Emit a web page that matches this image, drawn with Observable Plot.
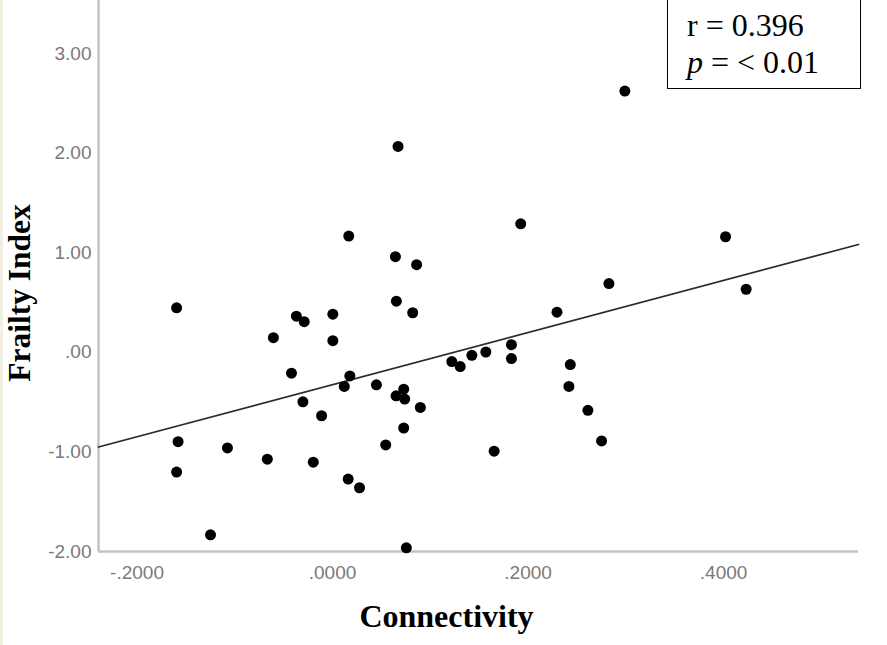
<!DOCTYPE html>
<html>
<head>
<meta charset="utf-8">
<script src="https://cdn.jsdelivr.net/npm/d3@7"></script>
<script src="https://cdn.jsdelivr.net/npm/@observablehq/plot@0.6"></script>
<style>
  html, body { margin: 0; padding: 0; background: #fff; }
  #wrap { position: relative; width: 887px; height: 645px; overflow: hidden; background: #fff; }
  #edge { position: absolute; left: 0; top: 0; width: 3px; height: 645px; background: #f1eee2; }
  #stats {
    position: absolute; left: 667px; top: -3px; width: 194px; height: 92px;
    box-sizing: border-box; border: 1.5px solid #000; background: #fff;
    padding: 9px 0 0 19px;
    font-family: "Liberation Serif", "Times New Roman", serif; font-size: 32px; line-height: 37px; color: #000;
  }
</style>
</head>
<body>
<div id="wrap"><div id="edge"></div></div>
<script>
// Connectivity (x) and Frailty Index (y)
const connectivity = [
  -0.1595, -0.158, -0.1595, -0.1248, -0.1075, -0.0667, -0.0605, -0.042,
  -0.037, -0.029, -0.0303, -0.0197, -0.0112,
  0.0003, 0.0003, 0.012, 0.0177, 0.016, 0.0166, 0.0276, 0.0449, 0.0544,
  0.0643, 0.0653, 0.067, 0.065, 0.0728, 0.0738, 0.0728, 0.0755, 0.082, 0.086, 0.0898,
  0.122, 0.1306, 0.1425, 0.1568, 0.1653, 0.183, 0.183,
  0.1925, 0.2296, 0.2432, 0.2418, 0.2612, 0.2752, 0.2827, 0.299, 0.402, 0.4231
];
const frailtyIndex = [
  0.447, -0.897, -1.203, -1.833, -0.96, -1.073, 0.147, -0.21,
  0.363, 0.307, -0.497, -1.103, -0.637,
  0.383, 0.117, -0.343, -0.237, -1.273, 1.167, -1.36, -0.327, -0.93,
  0.96, 0.513, 2.067, -0.437, -0.37, -0.47, -0.76, -1.963, 0.397, 0.88, -0.553,
  -0.093, -0.143, -0.03, 0.003, -0.993, 0.077, -0.063,
  1.29, 0.403, -0.123, -0.343, -0.583, -0.89, 0.69, 2.623, 1.16, 0.633
];
// Fit line as drawn in the picture
const fitIntercept = -0.325;
const fitSlope = 2.616;
const statLines = ["r = 0.396", "<i>p</i> = &lt; 0.01"];

const xTicks = [-0.2, 0, 0.2, 0.4];
const yTicks = [-2, -1, 0, 1, 2, 3];
const xDomain = [-0.2394, 0.538];
const yDomain = [-2, 3.532];

const points = connectivity.map((x, i) => ({x, y: frailtyIndex[i]}));
const fitLine = xDomain.map(x => ({x, y: fitIntercept + fitSlope * x}));

const dropZero = s => s.replace(/^(-?)0\./, "$1.");
const fmtX = d => dropZero(d.toFixed(4));
const fmtY = d => dropZero(d.toFixed(2));

const chart = Plot.plot({
  width: 887,
  height: 645,
  marginLeft: 98,
  marginRight: 29,
  marginTop: 0,
  marginBottom: 94,
  style: {fontFamily: "'Liberation Sans', Arial, sans-serif", fontSize: "19px", background: "transparent"},
  x: {domain: xDomain},
  y: {domain: yDomain},
  marks: [
    Plot.axisX({ticks: xTicks, tickFormat: fmtX, tickSize: 0, tickPadding: 14, color: "#7a7a7a", fontSize: 19, label: null}),
    Plot.axisY({ticks: yTicks, tickFormat: fmtY, tickSize: 0, tickPadding: 7, color: "#7a7a7a", fontSize: 19, label: null}),
    Plot.ruleX([xDomain[0]], {stroke: "#c4c4c4", strokeWidth: 2.5}),
    Plot.ruleY([yDomain[0]], {stroke: "#c4c4c4", strokeWidth: 2.5}),
    Plot.line(fitLine, {x: "x", y: "y", stroke: "#2a2a2a", strokeWidth: 1.7}),
    Plot.dot(points, {x: "x", y: "y", r: 5.5, fill: "#000", stroke: "none"}),
    Plot.text(["Connectivity"], {frameAnchor: "bottom", dx: -32, dy: 75, text: d => d, lineAnchor: "bottom",
      fontFamily: "'Liberation Serif', 'Times New Roman', serif", fontSize: 32, fontWeight: "bold", fill: "#000"}),
    Plot.text(["Frailty Index"], {frameAnchor: "left", textAnchor: "middle", dx: -69, dy: 17, rotate: -90, text: d => d, lineAnchor: "bottom",
      fontFamily: "'Liberation Serif', 'Times New Roman', serif", fontSize: 31.5, fontWeight: "bold", fill: "#000"})
  ]
});

const wrap = document.getElementById("wrap");
wrap.appendChild(chart);
chart.style.position = "absolute";
chart.style.left = "0";
chart.style.top = "0";
const stats = document.createElement("div");
stats.id = "stats";
stats.innerHTML = statLines.map(s => `<div>${s}</div>`).join("");
wrap.appendChild(stats);
</script>
</body>
</html>
